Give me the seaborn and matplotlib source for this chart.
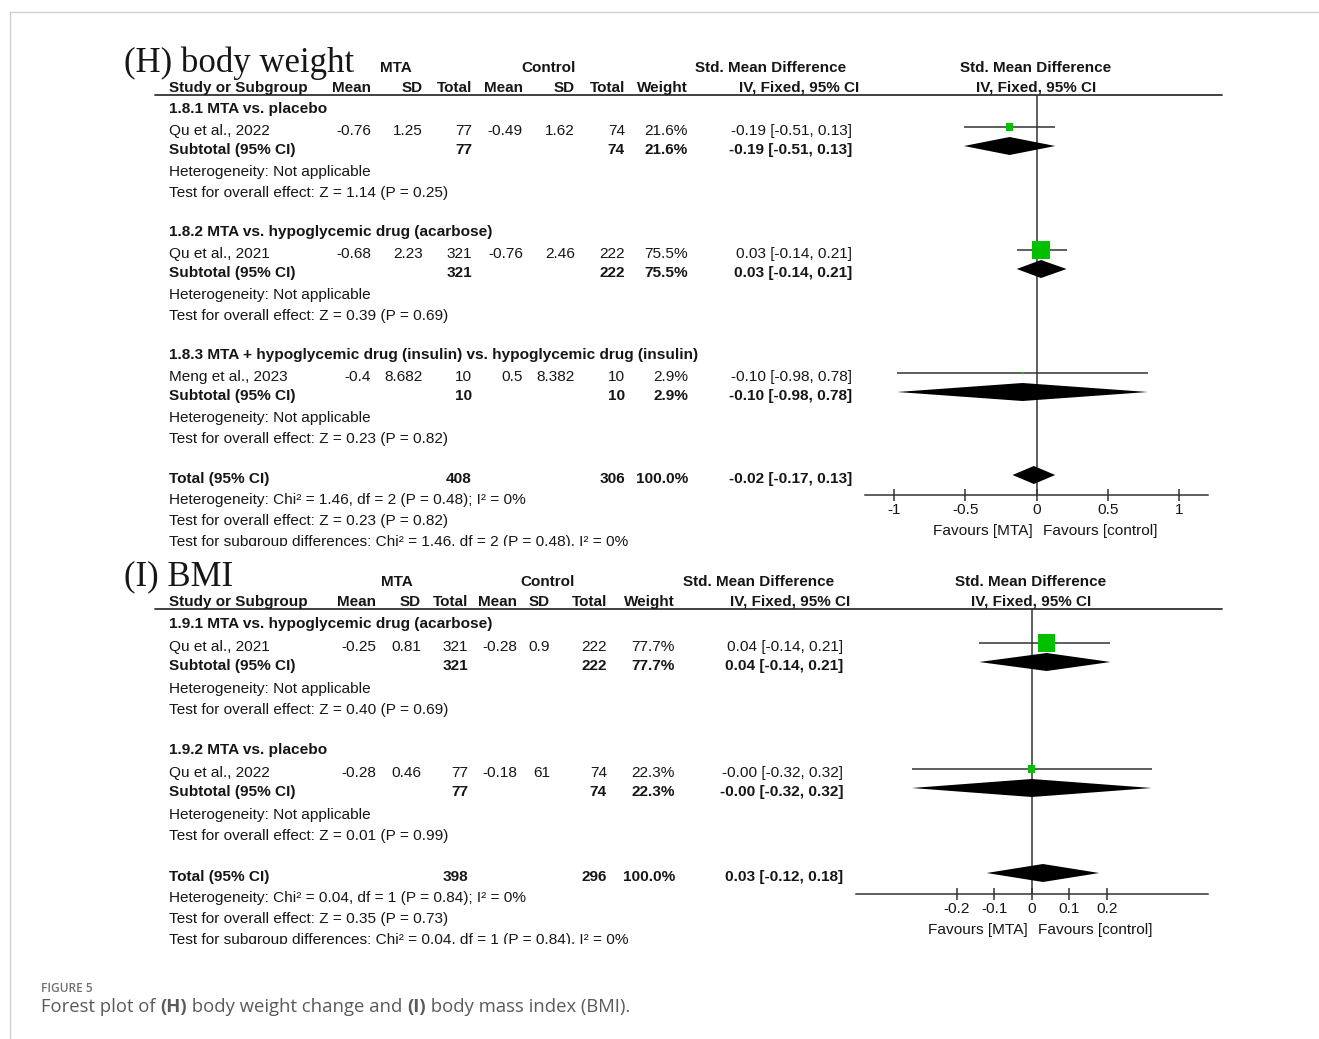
import matplotlib
matplotlib.use("Agg")
import matplotlib.pyplot as plt
from matplotlib.patches import Polygon, Rectangle
import seaborn as sns
import pandas as pd

# ---- (H) body weight ----
h_groups = ["1.8.1 MTA vs. placebo",
            "1.8.2 MTA vs. hypoglycemic drug (acarbose)",
            "1.8.3 MTA + hypoglycemic drug (insulin) vs. hypoglycemic drug (insulin)"]
h_studies = ["Qu et al., 2022", "Qu et al., 2021", "Meng et al., 2023"]
h_mta_mean = [-0.76, -0.68, -0.4]
h_mta_sd = [1.25, 2.23, 8.682]
h_mta_n = [77, 321, 10]
h_ctl_mean = [-0.49, -0.76, 0.5]
h_ctl_sd = [1.62, 2.46, 8.382]
h_ctl_n = [74, 222, 10]
h_weight = [21.6, 75.5, 2.9]
h_smd = [-0.19, 0.03, -0.10]
h_lo = [-0.51, -0.14, -0.98]
h_hi = [0.13, 0.21, 0.78]
h_z = ["Z = 1.14 (P = 0.25)", "Z = 0.39 (P = 0.69)", "Z = 0.23 (P = 0.82)"]
h_total = [-0.02, -0.17, 0.13]
h_total_n = [408, 306]
h_total_het = "Chi² = 1.46, df = 2 (P = 0.48); I² = 0%"
h_total_z = "Z = 0.23 (P = 0.82)"
h_subgroup = "Chi² = 1.46, df = 2 (P = 0.48), I² = 0%"
h_ticks = [-1, -0.5, 0, 0.5, 1]

# ---- (I) BMI ----
i_groups = ["1.9.1 MTA vs. hypoglycemic drug (acarbose)", "1.9.2 MTA vs. placebo"]
i_studies = ["Qu et al., 2021", "Qu et al., 2022"]
i_mta_mean = [-0.25, -0.28]
i_mta_sd = [0.81, 0.46]
i_mta_n = [321, 77]
i_ctl_mean = [-0.28, -0.18]
i_ctl_sd = [0.9, 61]
i_ctl_n = [222, 74]
i_weight = [77.7, 22.3]
i_smd = [0.04, -0.0]
i_lo = [-0.14, -0.32]
i_hi = [0.21, 0.32]
i_z = ["Z = 0.40 (P = 0.69)", "Z = 0.01 (P = 0.99)"]
i_total = [0.03, -0.12, 0.18]
i_total_n = [398, 296]
i_total_het = "Chi² = 0.04, df = 1 (P = 0.84); I² = 0%"
i_total_z = "Z = 0.35 (P = 0.73)"
i_subgroup = "Chi² = 0.04, df = 1 (P = 0.84), I² = 0%"
i_ticks = [-0.2, -0.1, 0, 0.1, 0.2]

col_names = ["Mean", "SD", "Total", "Mean", "SD", "Total", "Weight"]

W, H = 1319, 1039
TXT = "#161616"
LINE = "#333333"
GREEN = "#00c000"
FS = 11.1
HFS = 11

sns.set_theme(style="white")
plt.rcParams["font.family"] = ["Liberation Sans", "DejaVu Sans"]

fig = plt.figure(figsize=(W / 100, H / 100), dpi=100)
ax = fig.add_axes([0, 0, 1, 1])
ax.set_xlim(0, W)
ax.set_ylim(H, 0)
ax.axis("off")


def txt(x, y, s, ha="left", bold=False, size=FS, **kw):
    return ax.text(x, y, s, ha=ha, va="center", fontsize=size, color=TXT,
                   fontweight="bold" if bold else "normal", **kw)


def ci_text(e, l, h):
    return f"{e:.2f} [{l:.2f}, {h:.2f}]"


def diamond(fx, est, lo, hi, y, h=18):
    fx.add_patch(Polygon([(lo, y), (est, y - h / 2), (hi, y), (est, y + h / 2)],
                         closed=True, color="black", lw=0, zorder=3))


def draw_panel(p):
    top = p["top"]
    txt(124, top - 5, p["title"], size=25, family="Liberation Serif")
    # group headers
    txt(p["hdr"][0], top, "MTA", ha="center", bold=True, size=HFS)
    txt(p["hdr"][1], top, "Control", ha="center", bold=True, size=HFS)
    txt(p["hdr"][2], top, "Std. Mean Difference", ha="center", bold=True, size=HFS)
    txt(p["hdr"][3], top, "Std. Mean Difference", ha="center", bold=True, size=HFS)
    yh = top + 20
    txt(169, yh, "Study or Subgroup", bold=True, size=HFS)
    for x, name in zip(p["cols"], col_names):
        txt(x, yh, name, ha="right", bold=True, size=HFS)
    txt(p["ci_hdr"], yh, "IV, Fixed, 95% CI", ha="right", bold=True, size=HFS)
    txt(p["hdr"][3], yh, "IV, Fixed, 95% CI", ha="center", bold=True, size=HFS)
    yl = top + 27
    ax.plot([155, 1222], [yl, yl], color=LINE, lw=1.3)

    c = p["cols"]
    o = p["offs"]
    for i, gy in enumerate(p["group_y"]):
        txt(169, gy, p["groups"][i], bold=True)
        ys = gy + o[0]
        txt(169, ys, p["studies"][i])
        vals = [p["m1"][i], p["s1"][i], p["n1"][i], p["m2"][i], p["s2"][i], p["n2"][i]]
        for x, v in zip(c[:6], vals):
            txt(x, ys, str(v), ha="right")
        txt(c[6], ys, f"{p['w'][i]:.1f}%", ha="right")
        txt(p["ci_x"], ys, ci_text(p["smd"][i], p["lo"][i], p["hi"][i]), ha="right")
        yst = gy + o[1]
        txt(169, yst, "Subtotal (95% CI)", bold=True)
        txt(c[2], yst, str(p["n1"][i]), ha="right", bold=True)
        txt(c[5], yst, str(p["n2"][i]), ha="right", bold=True)
        txt(c[6], yst, f"{p['w'][i]:.1f}%", ha="right", bold=True)
        txt(p["ci_x"], yst, ci_text(p["smd"][i], p["lo"][i], p["hi"][i]), ha="right", bold=True)
        txt(169, gy + o[2], "Heterogeneity: Not applicable")
        txt(169, gy + o[3], "Test for overall effect: " + p["z"][i])

    ty = p["total_y"]
    txt(169, ty, "Total (95% CI)", bold=True)
    txt(c[2], ty, str(p["total_n"][0]), ha="right", bold=True)
    txt(c[5], ty, str(p["total_n"][1]), ha="right", bold=True)
    txt(c[6], ty, "100.0%", ha="right", bold=True)
    txt(p["ci_x"], ty, ci_text(*p["total"]), ha="right", bold=True)
    txt(169, ty + 21, "Heterogeneity: " + p["het"])
    txt(169, ty + 42, "Test for overall effect: " + p["tz"])
    # the source image is cropped through this last line
    clip = Rectangle((0, 0), W, ty + 63 + 4, transform=ax.transData)
    t = txt(169, ty + 63, "Test for subgroup differences: " + p["sub"])
    t.set_clip_path(clip)
    t.set_clip_on(True)

    # forest plot axes
    x0, x1, y1 = p["axis_x0"], p["axis_x1"], p["axis_y"]
    z, sc = p["zero"], p["scale"]
    fx = fig.add_axes([x0 / W, 1 - y1 / H, (x1 - x0) / W, (y1 - yl) / H])
    fx.set_facecolor("none")
    fx.set_xlim((x0 - z) / sc, (x1 - z) / sc)
    fx.set_ylim(y1, yl)
    for s in ["left", "right", "top"]:
        fx.spines[s].set_visible(False)
    fx.spines["bottom"].set_color(LINE)
    fx.spines["bottom"].set_linewidth(1.1)
    fx.axvline(0, color=LINE, lw=1.1, zorder=1)

    df = pd.DataFrame({"smd": p["smd"], "lo": p["lo"], "hi": p["hi"], "w": p["w"],
                       "y": [g + o[0] - 4 for g in p["group_y"]]})
    fx.hlines(df["y"], df["lo"], df["hi"], color=LINE, lw=1.1, zorder=2)
    side = [max(0.83 * w ** 0.7, 2.5) * 0.72 for w in df["w"]]
    sns.scatterplot(data=df, x="smd", y="y", marker="s", s=[v ** 2 for v in side],
                    color=GREEN, linewidth=0, legend=False, ax=fx, zorder=4)
    for i, gy in enumerate(p["group_y"]):
        diamond(fx, p["smd"][i], p["lo"][i], p["hi"][i], gy + o[1] - 4)
    diamond(fx, p["total"][0], p["total"][1], p["total"][2], ty - 4)

    fx.set_xticks(p["ticks"])
    fx.set_xticklabels([f"{v:g}" for v in p["ticks"]])
    fx.set_yticks([])
    fx.set_xlabel("")
    fx.set_ylabel("")
    fx.tick_params(axis="x", direction="inout", length=9, width=1.1, color=LINE,
                   labelsize=FS, labelcolor=TXT, pad=1, bottom=True)
    txt(z - 4, y1 + 36, "Favours [MTA]", ha="right")
    txt(z + 6, y1 + 36, "Favours [control]")


panel_h = dict(
    title="(H) body weight", top=68, hdr=[396, 549, 771, 1036], ci_hdr=859,
    cols=[371, 423, 472, 523, 575, 625, 688], ci_x=852,
    groups=h_groups, studies=h_studies, m1=h_mta_mean, s1=h_mta_sd, n1=h_mta_n,
    m2=h_ctl_mean, s2=h_ctl_sd, n2=h_ctl_n, w=h_weight, smd=h_smd, lo=h_lo, hi=h_hi,
    z=h_z, group_y=[109, 232, 355], offs=[22, 41, 63, 84], total_y=479,
    total=h_total, total_n=h_total_n, het=h_total_het, tz=h_total_z, sub=h_subgroup,
    axis_x0=865, axis_x1=1208, axis_y=495, zero=1036.7, scale=142.5,
    ticks=h_ticks)

panel_i = dict(
    title="(I) BMI", top=582, hdr=[397, 548, 759, 1031], ci_hdr=850,
    cols=[376, 421, 468, 517, 550, 607, 675], ci_x=843,
    groups=i_groups, studies=i_studies, m1=i_mta_mean, s1=i_mta_sd, n1=i_mta_n,
    m2=i_ctl_mean, s2=i_ctl_sd, n2=i_ctl_n, w=i_weight, smd=i_smd, lo=i_lo, hi=i_hi,
    z=i_z, group_y=[624, 750], offs=[23, 42, 65, 86], total_y=877,
    total=i_total, total_n=i_total_n, het=i_total_het, tz=i_total_z, sub=i_subgroup,
    axis_x0=856, axis_x1=1208, axis_y=894, zero=1031.7, scale=375,
    ticks=i_ticks)

draw_panel(panel_h)
draw_panel(panel_i)

# page frame
ax.plot([10, 10], [12, H], color="#d0d0d0", lw=1)
ax.plot([10, W], [12, 12], color="#d0d0d0", lw=1)

# caption
ax.text(41, 988, "FIGURE 5", fontsize=8.6, fontweight="semibold", family="Open Sans",
        color="#707070", va="center")
parts = [("Forest plot of ", "normal"), ("(H)", "bold"), (" body weight change and ", "normal"),
         ("(I)", "bold"), (" body mass index (BMI).", "normal")]
prev = ax.text(41, 1007, parts[0][0], fontsize=13.3, fontweight=parts[0][1],
               family="Open Sans", color="#5a5a5a", va="center")
for s, wgt in parts[1:]:
    prev = ax.annotate(s, xy=(1, 0.5), xycoords=prev, fontsize=13.3, fontweight=wgt,
                       ha="left", family="Open Sans", color="#5a5a5a", va="center")

fig.savefig("out.png", dpi=100, facecolor="white")
